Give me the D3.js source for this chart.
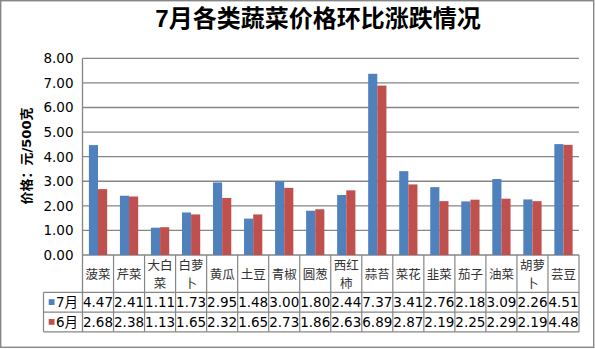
<!DOCTYPE html>
<html><head><meta charset="utf-8">
<script src="https://cdn.jsdelivr.net/npm/d3@7"></script>
<style>html,body{margin:0;padding:0;background:#fff;}svg{display:block;}</style>
</head><body>
<script>
const categories = [["菠菜"],["芹菜"],["大白","菜"],["白萝","卜"],["黄瓜"],["土豆"],["青椒"],["圆葱"],["西红","柿"],["蒜苔"],["菜花"],["韭菜"],["茄子"],["油菜"],["胡萝","卜"],["芸豆"]];
const seriesNames = ["7月","6月"];
const july = [4.47,2.41,1.11,1.73,2.95,1.48,3.00,1.80,2.44,7.37,3.41,2.76,2.18,3.09,2.26,4.51];
const june = [2.68,2.38,1.13,1.65,2.32,1.65,2.73,1.86,2.63,6.89,2.87,2.19,2.25,2.29,2.19,4.48];
const yTicks = [0,1,2,3,4,5,6,7,8];
const colors = ["#4F81BD","#C0504D"];
const title = "7月各类蔬菜价格环比涨跌情况";
const yTitle = "价格：元/500克";

const W=595,H=349;
const svg=d3.select("body").append("svg").attr("width",W).attr("height",H);
const grid="#868686";
svg.append("rect").attr("x",0.7).attr("y",0.7).attr("width",593).attr("height",346.6)
  .attr("fill","#fff").attr("stroke",grid).attr("stroke-width",1.4);

const L=82.5,R=579,T=58.3,B=255;
const keys=categories.map((c,i)=>c.join(""));
const x=d3.scaleBand().domain(keys).range([L,R]).paddingInner(0).paddingOuter(0);
const x1=d3.scaleBand().domain(seriesNames).range([0,x.bandwidth()]).paddingInner(0).paddingOuter(0.7);
const y=d3.scaleLinear().domain([0,8]).range([B,T]);

// gridlines
svg.append("g").selectAll("line").data(yTicks).join("line")
  .attr("x1",L).attr("x2",R).attr("y1",d=>y(d)).attr("y2",d=>y(d))
  .attr("stroke",grid).attr("stroke-width",1.3);
// y axis line
svg.append("line").attr("x1",L).attr("x2",L).attr("y1",T).attr("y2",332)
  .attr("stroke",grid).attr("stroke-width",1.3);
// tick labels
svg.append("g").selectAll("text").data(yTicks).join("text")
  .attr("x",73.5).attr("y",d=>y(d)).attr("dy","0.36em").attr("text-anchor","end")
  .attr("font-family","DejaVu Sans").attr("font-size",13.5).attr("fill","#000")
  .text(d=>d3.format(".2f")(d));

// bars
const series=[july,june];
series.forEach((vals,si)=>{
  svg.append("g").selectAll("rect").data(vals).join("rect")
    .attr("x",(d,i)=>x(keys[i])+x1(seriesNames[si]))
    .attr("width",x1.bandwidth())
    .attr("y",d=>y(d)).attr("height",d=>B-y(d))
    .attr("fill",colors[si]);
});

// data table
const rowTop=292.3, rowH=19.8;
const tg=svg.append("g");
// vertical lines
keys.forEach((k,i)=>{
  tg.append("line").attr("x1",x(k)+x.bandwidth()).attr("x2",x(k)+x.bandwidth())
    .attr("y1",B).attr("y2",rowTop+2*rowH).attr("stroke",grid).attr("stroke-width",1.2);
});
tg.append("line").attr("x1",43.5).attr("x2",43.5).attr("y1",rowTop).attr("y2",rowTop+2*rowH)
  .attr("stroke",grid).attr("stroke-width",1.2);
[0,1,2].forEach(r=>{
  tg.append("line").attr("x1",43.5).attr("x2",R).attr("y1",rowTop+r*rowH).attr("y2",rowTop+r*rowH)
    .attr("stroke",grid).attr("stroke-width",1.2);
});
// category labels
keys.forEach((k,i)=>{
  const lines=categories[i];
  const cx=x(k)+x.bandwidth()/2;
  const ys=lines.length===1?[274]:[265,283];
  lines.forEach((t,j)=>{
    tg.append("text").attr("x",cx).attr("y",ys[j]).attr("dy","0.36em").attr("text-anchor","middle")
      .attr("font-family","Noto Sans CJK SC").attr("font-size",12.5).attr("fill","#333")
      .text(t);
  });
});
// row headers
seriesNames.forEach((s,si)=>{
  const cy=rowTop+si*rowH+rowH/2;
  tg.append("rect").attr("x",48.7).attr("y",cy-3).attr("width",5.8).attr("height",5.8).attr("fill",colors[si]);
  tg.append("text").attr("x",56).attr("y",cy).attr("dy","0.36em")
    .attr("font-family","DejaVu Sans, Noto Sans CJK SC").attr("font-size",13.5).attr("fill","#000").text(s);
  series[si].forEach((v,i)=>{
    tg.append("text").attr("x",x(keys[i])+x.bandwidth()/2).attr("y",cy).attr("dy","0.36em")
      .attr("text-anchor","middle").attr("font-family","DejaVu Sans").attr("font-size",13.5)
      .attr("fill","#000").text(d3.format(".2f")(v));
  });
});

// title
svg.append("text").attr("x",318).attr("y",27).attr("text-anchor","middle")
  .attr("font-family","Liberation Sans, Noto Sans CJK SC").attr("font-weight","bold")
  .attr("font-size",24).attr("fill","#000").text(title);
// y title
svg.append("text").attr("transform","translate(26,156) rotate(-90)").attr("text-anchor","middle")
  .attr("dy","0.36em").attr("font-family","DejaVu Sans, Noto Sans CJK SC").attr("font-weight","bold")
  .attr("font-size",13).attr("fill","#000").text(yTitle);
</script>
</body></html>
